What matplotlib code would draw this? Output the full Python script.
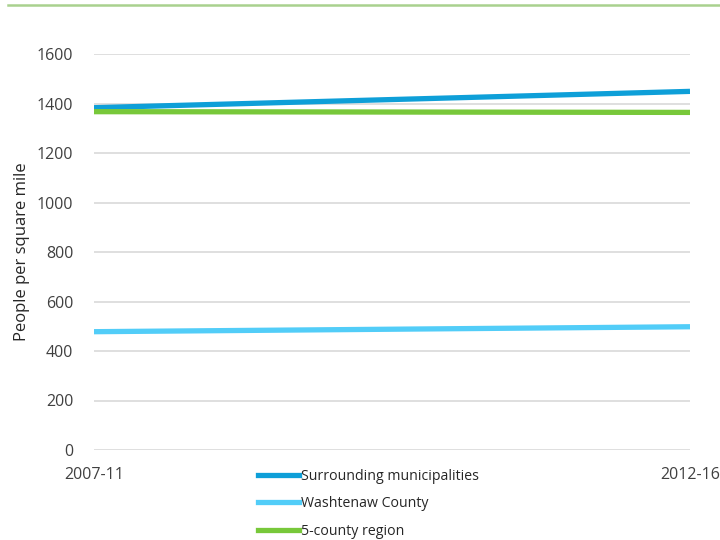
import matplotlib.pyplot as plt
from matplotlib.lines import Line2D

periods = ['2007-11', '2012-16']
surrounding = [1383, 1449]
washtenaw = [478, 498]
region = [1367, 1364]
series_names = ['Surrounding municipalities', 'Washtenaw County', '5-county region']
colors = ['#0e9fd8', '#52cdf8', '#78c83a']

plt.rcParams['font.family'] = ['Open Sans', 'DejaVu Sans']

fig = plt.figure(figsize=(7.2, 5.4), dpi=100)
ax = fig.add_axes([94 / 720, 1 - 450 / 540, 596 / 720, 396 / 540])

x = range(len(periods))
for vals, c in zip([surrounding, washtenaw, region], colors):
    ax.plot(x, vals, color=c, linewidth=3.8, solid_capstyle='butt', zorder=3)

ax.set_xlim(0, 1)
ax.set_ylim(0, 1600)
ax.set_yticks(range(0, 1601, 200))
ax.grid(axis='y', color='#d9d9d9', linewidth=1.2)
ax.set_axisbelow(True)
for s in ax.spines.values():
    s.set_visible(False)
ax.tick_params(length=0, labelsize=11.5, labelcolor='#404040')
ax.tick_params(axis='y', pad=15)
ax.set_xticks([])
ax.set_ylabel('People per square mile', fontsize=12, color='#262626', labelpad=5)

# x labels placed like the original (first left, last at the right edge)
fig.text(94 / 720, 1 - 475 / 540, periods[0], ha='center', va='center', fontsize=11.5, color='#404040')
fig.text(1.0, 1 - 475 / 540, periods[1], ha='right', va='center', fontsize=11.5, color='#404040')

handles = [Line2D([0], [0], color=c, linewidth=3.8) for c in colors]
fig.legend(handles, series_names, loc='upper left', bbox_to_anchor=(252 / 720, 1 - 463 / 540),
           frameon=False, fontsize=10.2, handlelength=2.9, handletextpad=0.15, labelspacing=0.9,
           labelcolor='#262626', borderaxespad=0)

# thin green rule across the top
fig.add_artist(Line2D([8 / 720, 1], [1 - 5 / 540, 1 - 5 / 540], color='#a9d18e', linewidth=1.8))

fig.savefig('out.png', dpi=100)
